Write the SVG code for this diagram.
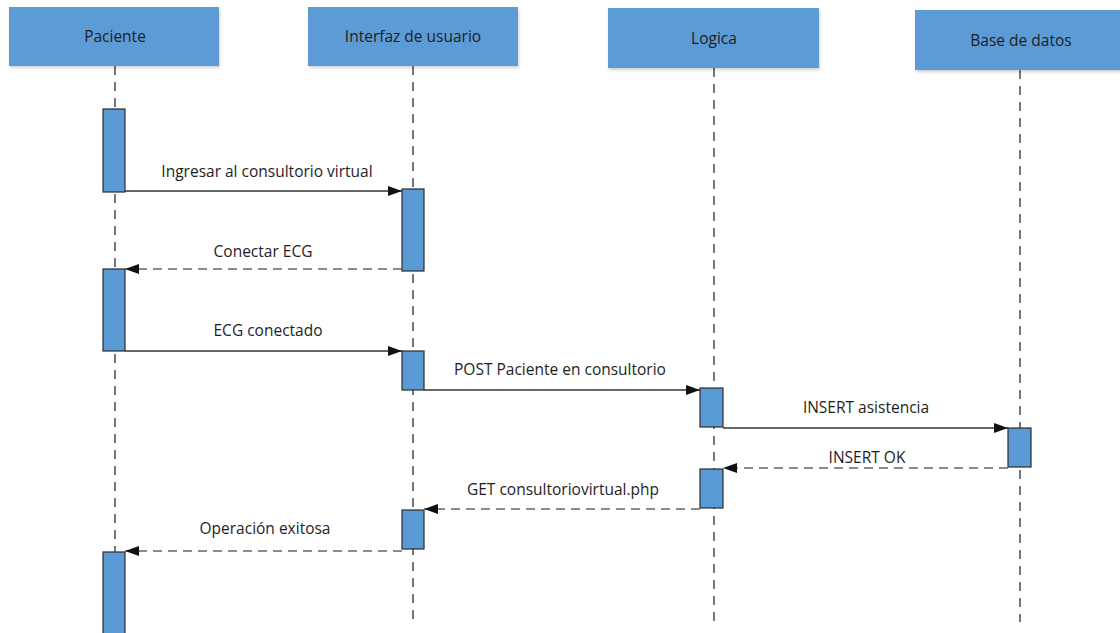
<svg xmlns="http://www.w3.org/2000/svg" width="1120" height="633" viewBox="0 0 1120 633">
<defs>
<filter id="sh" x="-10%" y="-10%" width="120%" height="130%">
<feDropShadow dx="1" dy="2" stdDeviation="1.5" flood-color="#000" flood-opacity="0.18"/>
</filter>
<marker id="ah" markerWidth="16" markerHeight="12" refX="14" refY="5.5" orient="auto" markerUnits="userSpaceOnUse">
<path d="M0,0.5 L14,5.5 L0,10.5 Z" fill="#111"/>
</marker>
</defs>
<style>
.hdr{fill:#5b9bd5;filter:url(#sh)}
.act{fill:#5b9bd5;stroke:#2a2a2a;stroke-width:1.2}
.life{stroke:#555;stroke-width:1.6;stroke-dasharray:9 7;fill:none}
.msg{stroke:#333;stroke-width:1.3;fill:none}
.ret{stroke:#666;stroke-width:1.6;stroke-dasharray:9 6;fill:none}
text{font-family:"Open Sans","Noto Sans","DejaVu Sans",sans-serif;font-size:15.5px;fill:#1e1e1e;text-anchor:middle}
</style>
<rect width="1120" height="633" fill="#fff"/>
<g id="lifelines">
<line class="life" x1="115" y1="66" x2="115" y2="633"/>
<line class="life" x1="413" y1="66" x2="413" y2="622"/>
<line class="life" x1="714" y1="68" x2="714" y2="622"/>
<line class="life" x1="1020" y1="70" x2="1020" y2="622"/>
</g>
<g id="paciente">
<rect class="hdr" x="9" y="7" width="210" height="59"/>
<text x="115" y="42">Paciente</text>
</g>
<g id="interfaz">
<rect class="hdr" x="308" y="7" width="210" height="59"/>
<text x="413" y="42">Interfaz de usuario</text>
</g>
<g id="logica">
<rect class="hdr" x="608" y="8" width="211" height="60"/>
<text x="714" y="44">Logica</text>
</g>
<g id="basedatos">
<rect class="hdr" x="915" y="10" width="210" height="60"/>
<text x="1021" y="46">Base de datos</text>
</g>
<g id="activations">
<rect class="act" x="103" y="109" width="22" height="83"/>
<rect class="act" x="402" y="189" width="22" height="82"/>
<rect class="act" x="103" y="269" width="22" height="82"/>
<rect class="act" x="402" y="351" width="22" height="39"/>
<rect class="act" x="700" y="388" width="23" height="39"/>
<rect class="act" x="1008" y="428" width="23" height="39"/>
<rect class="act" x="700" y="469" width="23" height="39"/>
<rect class="act" x="402" y="510" width="22" height="39"/>
<rect class="act" x="103" y="552" width="22" height="90"/>
</g>
<g id="connectors">
<line class="msg" x1="125" y1="191" x2="402" y2="191" marker-end="url(#ah)"/>
<line class="ret" x1="402" y1="269" x2="125" y2="269" marker-end="url(#ah)"/>
<line class="msg" x1="125" y1="351" x2="402" y2="351" marker-end="url(#ah)"/>
<line class="msg" x1="424" y1="390" x2="700" y2="390" marker-end="url(#ah)"/>
<line class="msg" x1="723" y1="428" x2="1008" y2="428" marker-end="url(#ah)"/>
<line class="ret" x1="1008" y1="468" x2="723" y2="468" marker-end="url(#ah)"/>
<line class="ret" x1="700" y1="509" x2="424" y2="509" marker-end="url(#ah)"/>
<line class="ret" x1="402" y1="551" x2="125" y2="551" marker-end="url(#ah)"/>
</g>
<g id="labels">
<text x="267" y="177">Ingresar al consultorio virtual</text>
<text x="263" y="257">Conectar ECG</text>
<text x="268" y="336">ECG conectado</text>
<text x="560" y="375">POST Paciente en consultorio</text>
<text x="866" y="413">INSERT asistencia</text>
<text x="867" y="463">INSERT OK</text>
<text x="563" y="495">GET consultoriovirtual.php</text>
<text x="265" y="534">Operación exitosa</text>
</g>
</svg>
